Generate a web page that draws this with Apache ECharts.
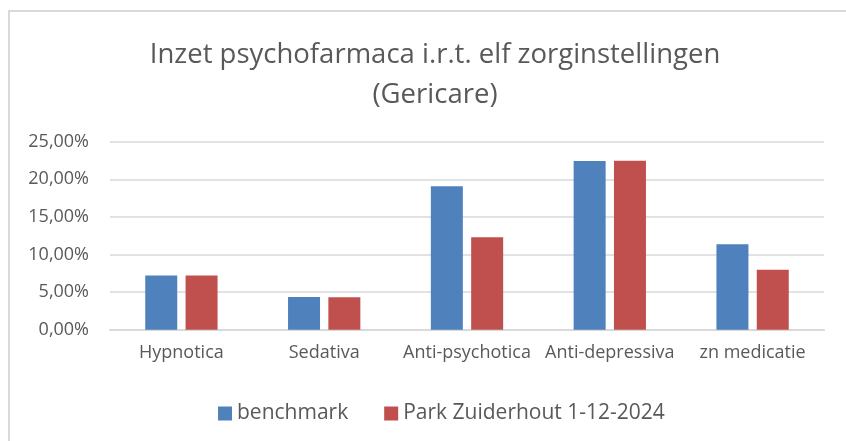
<!DOCTYPE html>
<html>
  <head>
    <meta charset="utf-8" />
    <title>Inzet psychofarmaca</title>
    <script src="https://cdn.jsdelivr.net/npm/echarts@6.0.0/dist/echarts.min.js"></script>
    <style>
      body {
        margin: 0;
        padding: 0;
        background: #fff;
      }
      #main {
        width: 846px;
        height: 441px;
      }
    </style>
  </head>
  <body>
    <div id="main"></div>
    <script type="text/javascript">
      var categories = [
        "Hypnotica",
        "Sedativa",
        "Anti-psychotica",
        "Anti-depressiva",
        "zn medicatie",
      ];
      var benchmark = [7.2, 4.35, 19.07, 22.43, 11.36];
      var parkZuiderhout = [7.22, 4.33, 12.3, 22.48, 7.98];
      var seriesNames = ["benchmark", "Park Zuiderhout 1-12-2024"];

      var myChart = echarts.init(document.getElementById("main"));
      var font = "'Open Sans', sans-serif";
      var textColor = "#595959";

      var option = {
        animation: false,
        backgroundColor: "#fff",
        graphic: [
          {
            type: "rect",
            shape: { x: 9, y: 11, width: 900, height: 500 },
            style: { fill: "none", stroke: "#d9d9d9", lineWidth: 2 },
          },
        ],
        title: {
          text: "Inzet psychofarmaca i.r.t. elf zorginstellingen\n(Gericare)",
          left: 430,
          top: 30,
          textAlign: "center",
          textStyle: {
            fontFamily: font,
            fontWeight: "normal",
            fontSize: 27.5,
            color: textColor,
            lineHeight: 40,
          },
        },
        legend: {
          data: seriesNames,
          left: 213,
          top: 398,
          itemWidth: 14,
          itemHeight: 14,
          itemGap: 36,
          icon: "rect",
          textStyle: {
            fontFamily: font,
            fontSize: 21,
            color: textColor,
          },
        },
        grid: {
          left: 110,
          right: 22,
          top: 141.7,
          bottom: 111.3,
          containLabel: false,
        },
        xAxis: {
          type: "category",
          data: categories,
          axisLine: { lineStyle: { color: "#d9d9d9", width: 2 } },
          axisTick: { show: false },
          axisLabel: {
            margin: 14,
            fontFamily: font,
            fontSize: 18,
            color: textColor,
            interval: 0,
          },
        },
        yAxis: {
          type: "value",
          min: 0,
          max: 25,
          interval: 5,
          axisLine: { show: false },
          axisTick: { show: false },
          splitLine: { lineStyle: { color: "#d9d9d9", width: 1.5 } },
          axisLabel: {
            margin: 21,
            fontFamily: font,
            fontSize: 18,
            color: textColor,
            formatter: function (v) {
              return v.toFixed(2).replace(".", ",") + "%";
            },
          },
        },
        series: [
          {
            name: seriesNames[0],
            type: "bar",
            data: benchmark,
            barWidth: 32,
            barGap: "26%",
            itemStyle: { color: "#4f81bd" },
          },
          {
            name: seriesNames[1],
            type: "bar",
            data: parkZuiderhout,
            barWidth: 32,
            barGap: "26%",
            itemStyle: { color: "#c0504d" },
          },
        ],
      };

      myChart.setOption(option);
    </script>
  </body>
</html>
